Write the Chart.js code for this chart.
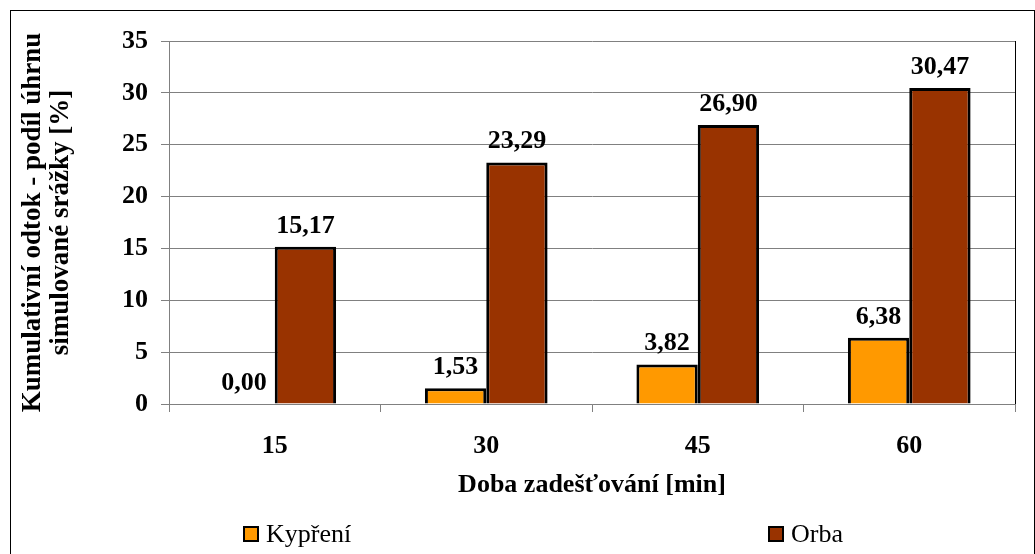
<!DOCTYPE html>
<html>
<head>
<meta charset="utf-8">
<script src="https://cdn.jsdelivr.net/npm/chart.js@4.4.0/dist/chart.umd.min.js"></script>
<style>
  html, body { margin: 0; padding: 0; background: #fff; }
  #wrap { width: 1035px; height: 554px; position: relative; }
</style>
</head>
<body>
<div id="wrap"><canvas id="c"></canvas></div>
<script>
const categories = ['15', '30', '45', '60'];
const kypreni = [0.00, 1.53, 3.82, 6.38];
const orba = [15.17, 23.29, 26.90, 30.47];
const seriesNames = ['Kypření', 'Orba'];
const seriesColors = ['#FF9900', '#993300'];
const yTitle = ['Kumulativní odtok - podíl úhrnu', 'simulované srážky [%]'];
const xTitle = 'Doba zadešťování [min]';

const FONT = '"Liberation Serif", "Times New Roman", serif';
Chart.defaults.font.family = FONT;
Chart.defaults.color = '#000';

const decoPlugin = {
  id: 'deco',
  beforeDraw(chart) {
    const ctx = chart.ctx;
    ctx.save();
    ctx.fillStyle = '#fff';
    ctx.fillRect(0, 0, chart.width, chart.height);
    ctx.restore();
  },
  afterDraw(chart) {
    const ctx = chart.ctx;
    const a = chart.chartArea;
    ctx.save();
    // outer border
    ctx.strokeStyle = '#000';
    ctx.lineWidth = 1;
    ctx.strokeRect(10.5, 10.5, chart.width - 11, chart.height + 20);
    // right border of plot area
    ctx.beginPath();
    ctx.moveTo(Math.round(a.right) + 0.5, a.top);
    ctx.lineTo(Math.round(a.right) + 0.5, a.bottom);
    ctx.stroke();
    // value labels
    ctx.font = 'bold 26px ' + FONT;
    ctx.fillStyle = '#000';
    ctx.textAlign = 'center';
    ctx.textBaseline = 'alphabetic';
    chart.data.datasets.forEach((ds, i) => {
      const meta = chart.getDatasetMeta(i);
      meta.data.forEach((el, j) => {
        const txt = ds.data[j].toFixed(2).replace('.', ',');
        ctx.fillText(txt, el.x, el.y - 14);
      });
    });
    // legend
    const legendX = [chart.width * 0.235, chart.width * 0.742];
    const ly = 526;
    ctx.font = '26px ' + FONT;
    ctx.textAlign = 'left';
    ctx.textBaseline = 'middle';
    chart.data.datasets.forEach((ds, i) => {
      const x = Math.round(legendX[i]);
      ctx.fillStyle = ds.backgroundColor;
      ctx.fillRect(x, ly, 16, 16);
      ctx.strokeStyle = '#000';
      ctx.lineWidth = 2;
      ctx.strokeRect(x + 1, ly + 1, 14, 14);
      ctx.fillStyle = '#000';
      ctx.fillText(ds.label, x + 23, ly + 9);
    });
    ctx.restore();
  }
};

new Chart(document.getElementById('c'), {
  type: 'bar',
  data: {
    labels: categories,
    datasets: [
      { label: seriesNames[0], data: kypreni, backgroundColor: seriesColors[0], borderColor: '#000', borderWidth: 3, borderSkipped: 'bottom' },
      { label: seriesNames[1], data: orba, backgroundColor: seriesColors[1], borderColor: '#000', borderWidth: 3, borderSkipped: 'bottom' }
    ]
  },
  options: {
    responsive: true,
    maintainAspectRatio: false,
    animation: false,
    categoryPercentage: 0.58,
    barPercentage: 1.0,
    layout: { padding: { left: 10, top: 41, right: 20, bottom: 50 } },
    plugins: {
      legend: { display: false },
      tooltip: { enabled: false }
    },
    scales: {
      x: {
        afterFit: s => { s.height = 100; },
        grid: { display: true, drawOnChartArea: false, drawTicks: true, tickLength: 8, offset: true, color: '#808080' },
        border: { display: true, color: '#808080' },
        ticks: { font: { size: 26, weight: 'bold' }, color: '#000', padding: 19 },
        title: { display: true, text: xTitle, font: { size: 26, weight: 'bold' }, color: '#000', padding: { top: 0, bottom: 3 } }
      },
      y: {
        min: 0, max: 35,
        afterFit: s => { s.width = 159; },
        grid: { color: '#808080', tickLength: 8, drawTicks: true },
        border: { display: true, color: '#808080' },
        ticks: { stepSize: 5, font: { size: 26, weight: 'bold' }, color: '#000', padding: 13 },
        title: { display: true, text: yTitle, font: { size: 27, weight: 'bold', lineHeight: 1.05 }, color: '#000', padding: { top: 8.8, bottom: 0 } }
      }
    }
  },
  plugins: [decoPlugin]
});
</script>
</body>
</html>
